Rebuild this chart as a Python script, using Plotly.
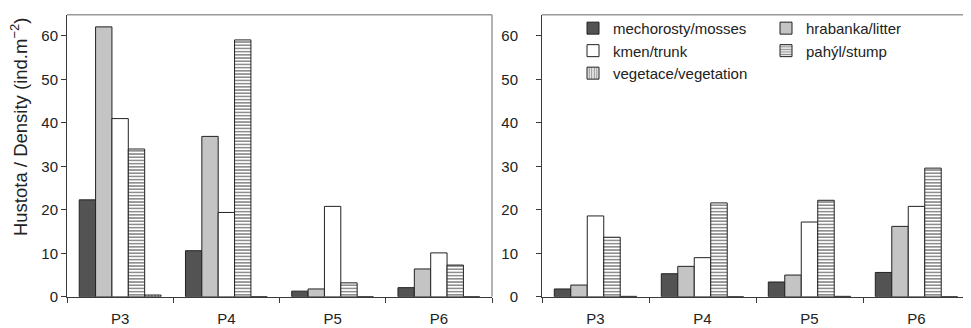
import plotly.graph_objects as go

categories = ["P3", "P4", "P5", "P6"]
series_names = ["mechorosty/mosses", "hrabanka/litter", "kmen/trunk", "pahýl/stump", "vegetace/vegetation"]

# left panel values
left_mosses = [22.3, 10.6, 1.3, 2.1]
left_litter = [62.1, 36.9, 1.8, 6.4]
left_trunk = [41.0, 19.4, 20.8, 10.1]
left_stump = [34.0, 59.1, 3.2, 7.3]
left_vegetation = [0.4, 0.0, 0.0, 0.0]

# right panel values
right_mosses = [1.8, 5.3, 3.4, 5.6]
right_litter = [2.7, 7.0, 5.0, 16.2]
right_trunk = [18.6, 9.0, 17.2, 20.8]
right_stump = [13.7, 21.6, 22.2, 29.6]
right_vegetation = [0.1, 0.0, 0.1, 0.0]

y_ticks = [0, 10, 20, 30, 40, 50, 60]

# the page places the figure 8px from the left edge
OFFX, OFFY = 8, 0
W, H = 971 - OFFX, 328 - OFFY
FONT = "Liberation Sans, Arial, sans-serif"


def px_x(x):
    return (x - OFFX) / W


def px_y(y):
    return 1 - (y - OFFY) / H


styles = [
    dict(color="#535353", pattern=None),
    dict(color="#c4c4c4", pattern=None),
    dict(color="#ffffff", pattern=None),
    dict(color="#ffffff", pattern=dict(shape="-", fgcolor="#1e1e1e", bgcolor="#ffffff", size=3.2, solidity=0.5, fillmode="overlay")),
    dict(color="#ffffff", pattern=dict(shape="|", fgcolor="#1e1e1e", bgcolor="#ffffff", size=3.2, solidity=0.5, fillmode="overlay")),
]
legend_ids = ["legend", "legend2", "legend", "legend2", "legend"]

fig = go.Figure()
left = [left_mosses, left_litter, left_trunk, left_stump, left_vegetation]
right = [right_mosses, right_litter, right_trunk, right_stump, right_vegetation]

for i, (name, vals) in enumerate(zip(series_names, left)):
    st = styles[i]
    marker = dict(color=st["color"], line=dict(color="#222222", width=1))
    if st["pattern"]:
        marker["pattern"] = st["pattern"]
    fig.add_trace(go.Bar(x=categories, y=vals, name=name, marker=marker,
                         xaxis="x", yaxis="y", showlegend=False, legendgroup=name))

for i, (name, vals) in enumerate(zip(series_names, right)):
    st = styles[i]
    marker = dict(color=st["color"], line=dict(color="#222222", width=1))
    if st["pattern"]:
        marker["pattern"] = st["pattern"]
    fig.add_trace(go.Bar(x=categories, y=vals, name=name, marker=marker,
                         xaxis="x2", yaxis="y2", showlegend=True, legendgroup=name,
                         legend=legend_ids[i]))

# plot area geometry (reference pixels)
bottom_px, top_px = 296, 7
units_per_px = 60 / (296 - 28.7)
y_top_val = (bottom_px - top_px) * units_per_px

axis_common = dict(
    showgrid=False, zeroline=False, showline=True, linecolor="#3a3a3a", linewidth=1,
    ticks="outside", ticklen=5, tickcolor="#3a3a3a",
    tickfont=dict(family=FONT, size=15, color="#222222"),
)

fig.update_layout(
    width=W, height=H,
    margin=dict(l=0, r=0, t=0, b=0),
    paper_bgcolor="white", plot_bgcolor="white",
    barmode="group", bargap=0.23, bargroupgap=0,
    font=dict(family=FONT, size=15, color="#222222"),
    xaxis=dict(domain=[px_x(67), px_x(492)], anchor="y", type="category", range=[-0.5, 3.5],
               tickson="boundaries", ticklabelstandoff=8, **axis_common),
    yaxis=dict(domain=[px_y(bottom_px), px_y(top_px)], anchor="x", range=[0, y_top_val],
               tickvals=y_ticks, ticklabelstandoff=0, **axis_common),
    xaxis2=dict(domain=[px_x(542), px_x(970)], anchor="y2", type="category", range=[-0.5, 3.5],
                tickson="boundaries", ticklabelstandoff=8, **axis_common),
    yaxis2=dict(domain=[px_y(bottom_px), px_y(top_px)], anchor="x2", range=[0, y_top_val],
                tickvals=y_ticks, ticklabelstandoff=15, **axis_common),
    legend=dict(x=px_x(573), y=px_y(4), xanchor="left", yanchor="top",
                bgcolor="rgba(0,0,0,0)", font=dict(family=FONT, size=15, color="#222222"),
                itemwidth=30, tracegroupgap=0, traceorder="normal"),
    legend2=dict(x=px_x(766), y=px_y(4), xanchor="left", yanchor="top",
                 bgcolor="rgba(0,0,0,0)", font=dict(family=FONT, size=15, color="#222222"),
                 itemwidth=30, tracegroupgap=0, traceorder="normal"),
    showlegend=True,
)

# frame lines (top and right) for both panels
for xr_, yr_ in (("x domain", "y domain"), ("x2 domain", "y2 domain")):
    fig.add_shape(type="line", xref=xr_, yref=yr_, x0=0, x1=1, y0=1, y1=1,
                  line=dict(color="#9a9a9a", width=1.5))
    fig.add_shape(type="line", xref=xr_, yref=yr_, x0=1, x1=1, y0=0, y1=1,
                  line=dict(color="#9a9a9a", width=1.5))

fig.add_annotation(
    text="Hustota / Density (ind.m<sup>−2</sup>)", textangle=-90,
    xref="paper", yref="paper", x=px_x(19), y=px_y(122),
    xanchor="center", yanchor="middle", showarrow=False,
    font=dict(family=FONT, size=18.5, color="#222222"),
)

fig.write_html("out.html")
